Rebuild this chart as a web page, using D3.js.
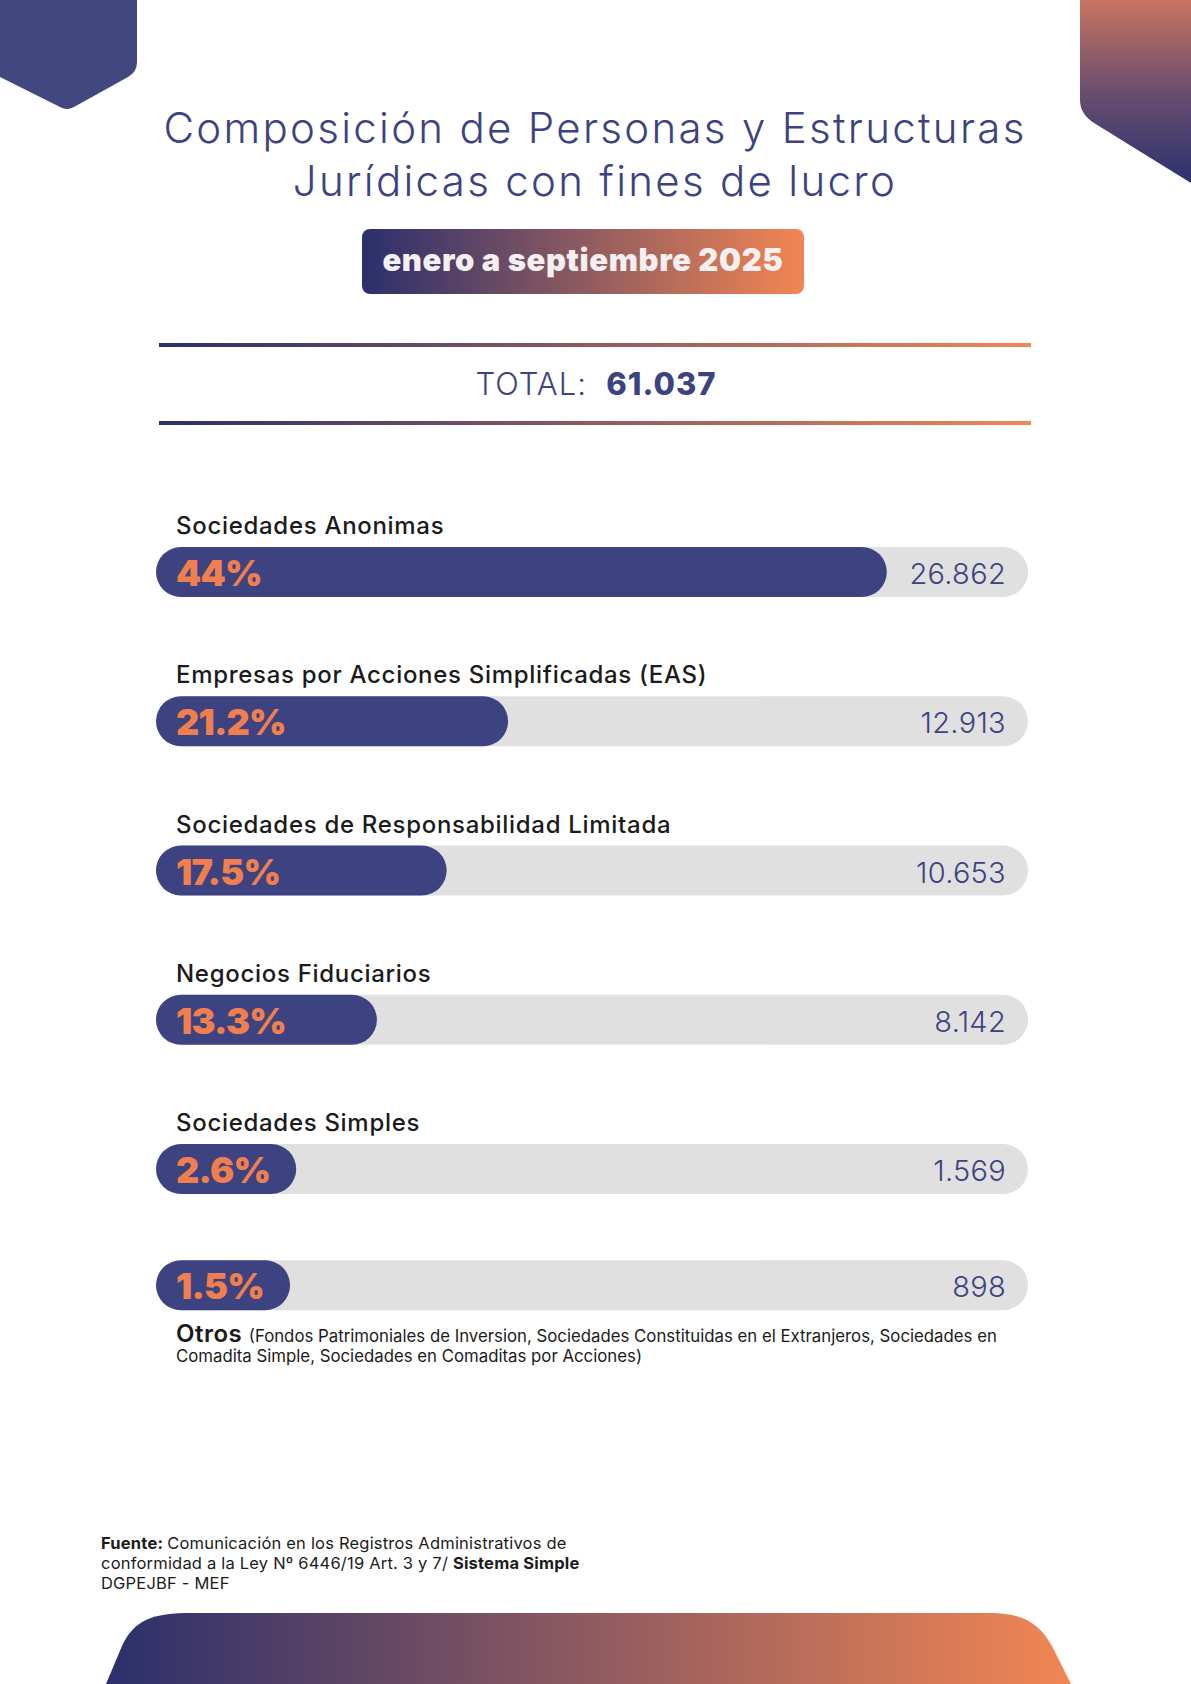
<!DOCTYPE html>
<html>
<head>
<meta charset="utf-8">
<script src="https://cdn.jsdelivr.net/npm/d3@7"></script>
<style>
  body { margin: 0; background: #fff; }
  svg { display: block; font-family: 'Inter', 'Lato', sans-serif; }
</style>
</head>
<body>
<svg id="chart"></svg>
<script>
// data
const categories = [
  'Sociedades Anonimas',
  'Empresas por Acciones Simplificadas (EAS)',
  'Sociedades de Responsabilidad Limitada',
  'Negocios Fiduciarios',
  'Sociedades Simples',
  'Otros'
];
const percents = [44, 21.2, 17.5, 13.3, 2.6, 1.5];
const counts = [26862, 12913, 10653, 8142, 1569, 898];
const total = 61037;

const titleLines = ['Composición de Personas y Estructuras', 'Jurídicas con fines de lucro'];
const period = 'enero a septiembre 2025';
const otrosNote = ['(Fondos Patrimoniales de Inversion, Sociedades Constituidas en el Extranjeros, Sociedades en',
                   'Comadita Simple, Sociedades en Comaditas por Acciones)'];

// colors
const navy = '#3d4380';
const orange = '#ef7f4f';
const track = '#e0e0e0';

const W = 1191, H = 1684;
const fmt = d3.formatLocale({ decimal: ',', thousands: '.', grouping: [3], currency: ['', ''] }).format(',d');

const svg = d3.select('#chart').attr('width', W).attr('height', H);
const defs = svg.append('defs');

function grad(id, x2, y2, stops) {
  let g = defs.append('linearGradient').attr('id', id)
    .attr('x1', 0).attr('y1', 0).attr('x2', x2).attr('y2', y2);
  stops.forEach(function(s, i) {
    g.append('stop').attr('offset', i / (stops.length - 1)).attr('stop-color', s);
  });
}
grad('gH', 1, 0, ['#2b2f6c', '#f28653']);
grad('gV', 0, 1, ['#c87560', '#6a4e6e', '#2c3170']);

// decoration shapes
svg.append('path')
  .attr('d', 'M0,0 H137 V62 Q137,72 128,77 L74,107 Q67,111 60,107 L0,77 Z')
  .attr('fill', '#41487f');

svg.append('path')
  .attr('d', 'M1080,0 V100 Q1080,114 1094,123 L1191,183 V0 Z')
  .attr('fill', 'url(#gV)');

svg.append('path')
  .attr('d', 'M106,1684 L122,1646 C134,1620 152,1613 192,1613 L990,1613 C1025,1613 1040,1625 1052,1646 L1071,1684 Z')
  .attr('fill', 'url(#gH)');

// title
svg.selectAll('.title')
  .data(titleLines)
  .enter()
  .append('text')
    .attr('x', 595)
    .attr('y', function(d, i) { return 143 + i * 53; })
    .attr('text-anchor', 'middle')
    .attr('font-size', 42)
    .attr('font-weight', 300)
    .attr('letter-spacing', 2.3)
    .attr('fill', navy)
    .text(function(d) { return d; });

// period badge
svg.append('rect')
  .attr('x', 362).attr('y', 229).attr('width', 442).attr('height', 65)
  .attr('rx', 8).attr('fill', 'url(#gH)');
svg.append('text')
  .attr('x', 583).attr('y', 271)
  .attr('text-anchor', 'middle')
  .attr('font-size', 31).attr('font-weight', 900)
  .attr('letter-spacing', 0.6)
  .attr('fill', '#f4eff1')
  .text(period);

// total block
[343, 421].forEach(function(y) {
  svg.append('rect').attr('x', 159).attr('y', y).attr('width', 872).attr('height', 4).attr('fill', 'url(#gH)');
});
let tt = svg.append('text')
  .attr('x', 596).attr('y', 395)
  .attr('text-anchor', 'middle')
  .attr('font-size', 31).attr('fill', navy)
  .attr('letter-spacing', 1);
tt.append('tspan').attr('font-weight', 300).text('TOTAL:\u00a0\u00a0');
tt.append('tspan').attr('font-weight', 800).text(fmt(total));

// bars
const barLeft = 156, barRight = 1028, barH = 50;
const x = d3.scaleLinear().domain([0, 52.5]).range([0, barRight - barLeft]);
const y = d3.scaleLinear().domain([0, 4]).range([547, 1144]);
const labelBelowShift = 33; // the last row has its label under the bar

const rows = categories.map(function(c, i) {
  return { name: c, pct: percents[i], count: counts[i], i: i, below: i === categories.length - 1 };
});
function rowY(d) { return d.below ? y(d.i) - labelBelowShift : y(d.i); }

const row = svg.selectAll('.row')
  .data(rows)
  .enter()
  .append('g')
    .attr('class', 'row')
    .attr('transform', function(d) { return 'translate(0,' + rowY(d) + ')'; });

row.append('rect')
  .attr('x', barLeft).attr('y', 0)
  .attr('width', barRight - barLeft).attr('height', barH)
  .attr('rx', barH / 2).attr('fill', track);

const bar = row.append('rect')
  .attr('x', barLeft).attr('y', 0)
  .attr('height', barH)
  .attr('rx', barH / 2).attr('fill', navy);

const pctText = row.append('text')
  .attr('x', barLeft + 20).attr('y', 39)
  .attr('font-size', 36).attr('font-weight', 900)
  .attr('letter-spacing', -0.8)
  .attr('fill', orange)
  .text(function(d) { return d.pct + '%'; });

// bar at least as wide as its label
pctText.each(function(d) { d.labelW = this.getComputedTextLength(); });
bar.attr('width', function(d) { return Math.max(x(d.pct), d.labelW + 46); });

row.append('text')
  .attr('x', 1006).attr('y', 37)
  .attr('text-anchor', 'end')
  .attr('font-size', 29).attr('font-weight', 300)
  .attr('letter-spacing', 0.3)
  .attr('fill', navy)
  .text(function(d) { return fmt(d.count); });

row.filter(function(d) { return !d.below; })
  .append('text')
    .attr('x', 176).attr('y', -13)
    .attr('font-size', 24).attr('font-weight', 500)
    .attr('letter-spacing', 0.7)
    .attr('fill', '#1b1b1b')
    .text(function(d) { return d.name; });

// "Otros" label with note
const otros = row.filter(function(d) { return d.below; });
let ot = otros.append('text')
  .attr('x', 176).attr('y', 82)
  .attr('fill', '#1b1b1b');
ot.append('tspan').attr('font-size', 24).attr('font-weight', 600).attr('letter-spacing', 0.5).text(function(d) { return d.name + ' '; });
ot.append('tspan').attr('font-size', 16.8).attr('font-weight', 400).text(otrosNote[0]);
otros.append('text')
  .attr('x', 176).attr('y', 102)
  .attr('font-size', 16.8).attr('fill', '#1b1b1b')
  .text(otrosNote[1]);

// source
const src = svg.append('g').attr('font-size', 16.5).attr('letter-spacing', 0.2).attr('fill', '#1b1b1b');
let s1 = src.append('text').attr('x', 101).attr('y', 1549);
s1.append('tspan').attr('font-weight', 700).text('Fuente: ');
s1.append('tspan').text('Comunicación en los Registros Administrativos de');
let s2 = src.append('text').attr('x', 101).attr('y', 1569);
s2.append('tspan').text('conformidad a la Ley Nº 6446/19 Art. 3 y 7/ ');
s2.append('tspan').attr('font-weight', 700).text('Sistema Simple');
src.append('text').attr('x', 101).attr('y', 1589).text('DGPEJBF - MEF');
</script>
</body>
</html>
